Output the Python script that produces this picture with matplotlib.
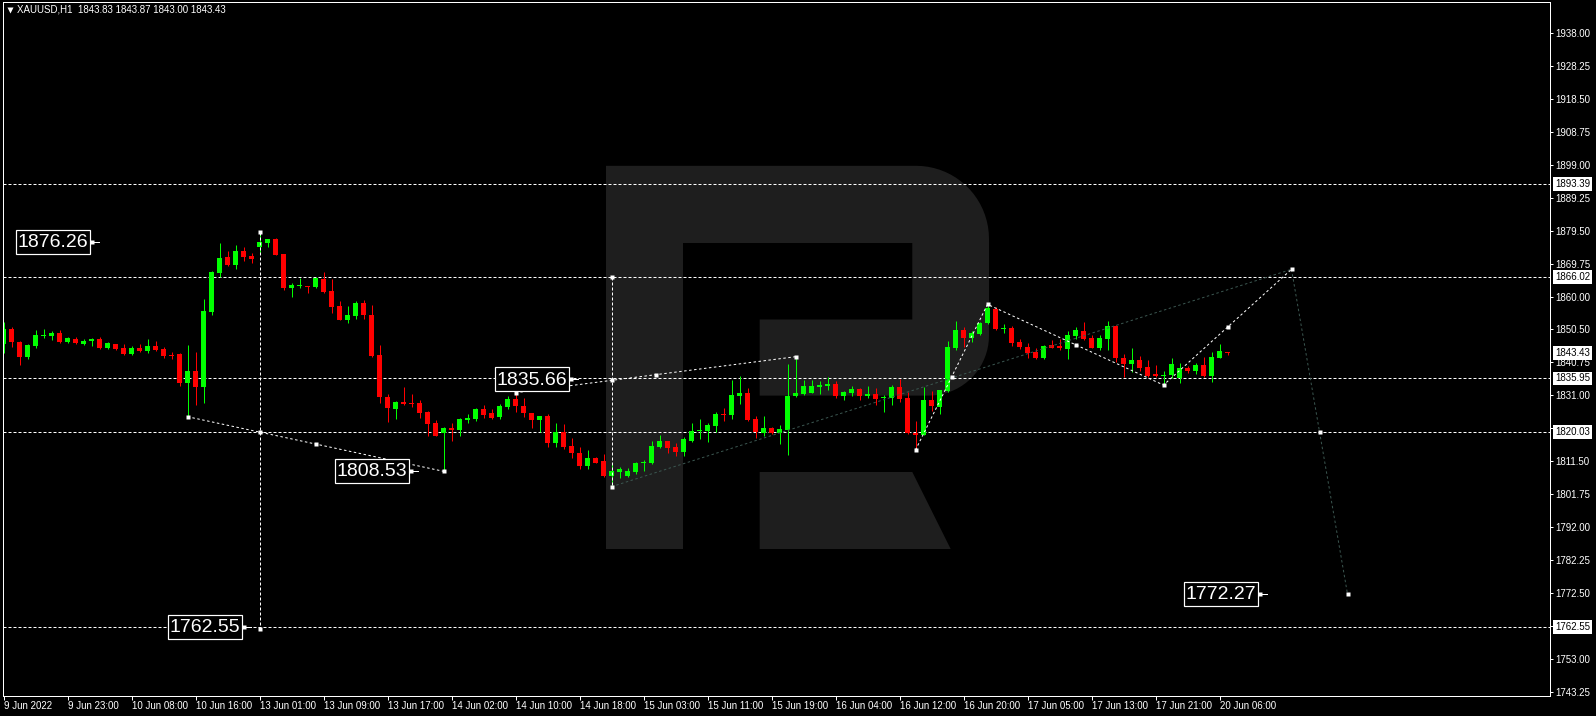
import numpy as np
import matplotlib
matplotlib.use('Agg')
import matplotlib.pyplot as plt
from matplotlib.patches import Polygon, Rectangle
from matplotlib import ticker

plt.rcParams['font.family'] = ['Liberation Sans', 'DejaVu Sans']
plt.rcParams['lines.scale_dashes'] = False

# XAUUSD H1 candles, 9 Jun 15:00 .. 20 Jun 07:00
opens = [1846.03, 1850.56, 1846.72, 1842.29, 1845.63, 1848.50, 1848.59, 1849.38, 1846.82, 1847.60,
         1846.23, 1846.92, 1847.60, 1845.04, 1846.13, 1845.04, 1843.17, 1845.04, 1844.06, 1845.54,
         1844.65, 1842.90, 1843.07, 1834.60, 1838.15, 1833.52, 1855.68, 1867.20, 1871.83, 1869.57,
         1873.60, 1872.13, 1874.88, 1876.06, 1877.15, 1872.72, 1862.77, 1863.20, 1863.36, 1862.97,
         1865.23, 1861.79, 1857.26, 1853.32, 1854.50, 1858.24, 1854.69, 1842.88, 1830.47, 1827.02,
         1828.99, 1828.60, 1828.60, 1826.04, 1822.89, 1819.73, 1821.21, 1820.72, 1823.67, 1823.97,
         1826.92, 1825.64, 1824.66, 1827.61, 1829.98, 1827.81, 1825.74, 1823.67, 1824.86, 1816.98,
         1820.03, 1816.00, 1813.83, 1810.18, 1812.45, 1811.56, 1807.23, 1808.41, 1807.23, 1808.41,
         1810.90, 1811.07, 1815.80, 1817.47, 1815.60, 1814.32, 1817.47, 1820.50, 1820.52, 1822.00,
         1825.45, 1825.15, 1830.86, 1831.55, 1823.97, 1819.73, 1821.41, 1819.73, 1820.72, 1830.86,
         1831.35, 1831.75, 1833.52, 1833.72, 1834.31, 1830.76, 1831.55, 1832.83, 1830.76, 1831.35,
         1830.20, 1830.27, 1833.52, 1830.07, 1819.93, 1819.24, 1829.58, 1827.61, 1832.24, 1844.85,
         1850.26, 1848.00, 1848.98, 1852.23, 1856.47, 1850.60, 1850.76, 1846.82, 1845.14, 1843.67,
         1841.89, 1845.83, 1845.54, 1844.65, 1848.49, 1849.97, 1848.00, 1845.04, 1847.60, 1851.45,
         1842.09, 1840.22, 1841.40, 1839.43, 1837.20, 1836.67, 1836.97, 1836.18, 1839.14, 1838.25,
         1839.92, 1836.67, 1842.09, 1843.83]
highs = [1852.70, 1851.15, 1847.11, 1846.03, 1850.26, 1850.56, 1849.97, 1850.26, 1848.29, 1848.09,
         1847.70, 1848.00, 1848.19, 1846.72, 1846.13, 1846.13, 1845.54, 1846.13, 1847.60, 1847.01,
         1845.24, 1843.67, 1843.57, 1845.83, 1843.76, 1859.32, 1867.70, 1875.97, 1873.60, 1875.38,
         1874.69, 1872.91, 1879.31, 1877.15, 1877.34, 1872.72, 1864.15, 1865.53, 1863.36, 1865.92,
         1867.30, 1865.23, 1858.83, 1857.26, 1858.83, 1859.13, 1857.65, 1845.83, 1831.45, 1829.29,
         1833.52, 1831.26, 1829.58, 1826.43, 1823.67, 1821.51, 1822.89, 1824.17, 1825.45, 1827.32,
         1828.10, 1826.82, 1828.30, 1830.76, 1831.75, 1830.17, 1825.74, 1824.86, 1825.45, 1822.89,
         1822.39, 1818.26, 1815.60, 1814.81, 1812.84, 1813.53, 1810.87, 1809.69, 1809.39, 1811.17,
         1811.86, 1817.47, 1819.24, 1817.47, 1816.78, 1818.75, 1822.89, 1823.97, 1822.89, 1826.14,
         1827.12, 1835.49, 1836.67, 1833.03, 1824.86, 1824.86, 1821.51, 1822.20, 1840.12, 1842.38,
         1835.49, 1835.49, 1835.10, 1836.28, 1835.20, 1832.34, 1833.72, 1833.13, 1833.72, 1833.13,
         1831.06, 1833.92, 1835.69, 1831.95, 1823.38, 1833.42, 1832.24, 1832.54, 1847.11, 1853.02,
         1851.05, 1849.97, 1852.72, 1857.85, 1857.16, 1852.03, 1851.45, 1847.60, 1846.33, 1845.04,
         1845.83, 1847.31, 1847.50, 1849.97, 1851.05, 1852.72, 1848.78, 1848.78, 1852.92, 1851.74,
         1843.17, 1845.04, 1842.58, 1841.40, 1839.92, 1838.15, 1842.09, 1840.42, 1839.63, 1840.61,
         1842.38, 1843.86, 1846.13, 1843.87]
lows = [1843.60, 1845.24, 1839.92, 1841.79, 1845.04, 1848.00, 1847.31, 1846.42, 1846.52, 1846.13,
        1845.83, 1845.63, 1844.65, 1844.65, 1844.36, 1842.88, 1842.88, 1843.67, 1843.57, 1844.16,
        1842.09, 1841.79, 1833.62, 1824.66, 1828.20, 1828.80, 1854.79, 1865.92, 1869.27, 1868.38,
        1870.65, 1870.16, 1872.81, 1874.69, 1872.32, 1862.08, 1860.11, 1862.77, 1861.29, 1862.77,
        1861.29, 1855.38, 1853.10, 1852.43, 1853.61, 1853.42, 1842.19, 1828.80, 1823.18, 1823.87,
        1828.00, 1827.60, 1824.36, 1819.05, 1818.85, 1808.53, 1817.47, 1819.05, 1822.89, 1823.38,
        1824.17, 1823.97, 1823.97, 1826.92, 1826.14, 1824.46, 1821.41, 1820.03, 1815.80, 1815.80,
        1815.11, 1812.45, 1809.20, 1809.20, 1810.87, 1806.93, 1803.98, 1806.64, 1806.93, 1807.62,
        1808.60, 1810.58, 1815.31, 1813.83, 1813.14, 1813.14, 1817.27, 1817.96, 1817.27, 1820.03,
        1823.48, 1823.97, 1828.40, 1823.38, 1818.45, 1819.05, 1819.44, 1816.49, 1813.33, 1830.37,
        1831.06, 1831.55, 1831.35, 1832.54, 1830.27, 1829.58, 1830.76, 1829.58, 1830.07, 1828.10,
        1826.14, 1828.10, 1829.09, 1819.44, 1814.81, 1819.24, 1826.23, 1825.35, 1832.00, 1844.36,
        1845.34, 1846.82, 1848.78, 1852.00, 1850.26, 1849.48, 1845.63, 1844.55, 1841.89, 1841.60,
        1841.70, 1844.85, 1844.36, 1841.70, 1847.60, 1847.31, 1845.04, 1844.36, 1844.36, 1840.91,
        1836.28, 1837.76, 1838.15, 1836.48, 1836.48, 1834.01, 1835.98, 1834.70, 1837.66, 1837.17,
        1836.48, 1835.00, 1842.09, 1843.00]
closes = [1850.56, 1846.62, 1842.38, 1845.73, 1848.69, 1848.69, 1849.38, 1846.82, 1847.90, 1846.52,
          1847.11, 1847.60, 1845.04, 1846.33, 1844.75, 1843.27, 1845.04, 1844.16, 1845.54, 1844.36,
          1842.58, 1842.70, 1834.60, 1838.15, 1833.52, 1855.88, 1867.40, 1871.53, 1869.47, 1873.60,
          1871.93, 1871.24, 1876.16, 1877.05, 1872.52, 1862.57, 1863.46, 1863.36, 1863.07, 1865.53,
          1861.49, 1857.06, 1853.32, 1854.60, 1858.24, 1854.60, 1842.48, 1830.57, 1827.32, 1829.09,
          1828.40, 1828.40, 1825.84, 1822.49, 1819.05, 1821.21, 1820.72, 1823.97, 1824.17, 1826.92,
          1825.15, 1824.36, 1827.81, 1829.98, 1827.81, 1825.84, 1823.67, 1824.86, 1816.98, 1820.03,
          1815.80, 1813.83, 1810.08, 1812.45, 1811.07, 1807.23, 1808.60, 1809.10, 1808.60, 1810.87,
          1811.17, 1816.00, 1817.47, 1815.50, 1814.32, 1817.96, 1820.43, 1820.72, 1822.20, 1825.45,
          1825.30, 1831.06, 1831.55, 1823.67, 1820.03, 1821.41, 1819.73, 1821.02, 1830.76, 1831.55,
          1833.72, 1833.72, 1834.01, 1834.31, 1830.76, 1831.95, 1832.83, 1830.76, 1831.35, 1829.78,
          1830.37, 1833.52, 1829.88, 1819.73, 1819.14, 1829.58, 1827.91, 1832.54, 1845.34, 1850.26,
          1848.00, 1849.28, 1852.23, 1856.66, 1850.56, 1850.76, 1846.33, 1845.14, 1843.57, 1842.09,
          1845.54, 1845.04, 1844.85, 1848.78, 1850.26, 1847.60, 1845.04, 1848.00, 1851.45, 1842.09,
          1840.22, 1841.40, 1839.14, 1836.67, 1836.67, 1836.97, 1840.22, 1839.14, 1838.25, 1839.92,
          1836.67, 1842.38, 1844.06, 1843.43]

time_labels = ['9 Jun 2022', '9 Jun 23:00', '10 Jun 08:00', '10 Jun 16:00', '13 Jun 01:00',
               '13 Jun 09:00', '13 Jun 17:00', '14 Jun 02:00', '14 Jun 10:00', '14 Jun 18:00',
               '15 Jun 03:00', '15 Jun 11:00', '15 Jun 19:00', '16 Jun 04:00', '16 Jun 12:00',
               '16 Jun 20:00', '17 Jun 05:00', '17 Jun 13:00', '17 Jun 21:00', '20 Jun 06:00']
price_ticks = [1938.00, 1928.25, 1918.50, 1908.75, 1899.00, 1889.25, 1879.50, 1869.75, 1860.00,
               1850.50, 1840.75, 1831.00, 1821.25, 1811.50, 1801.75, 1792.00, 1782.25, 1772.50,
               1762.75, 1753.00, 1743.25]
hidden_ticks = [1821.25, 1762.75]  # covered by level boxes on the scale
levels = [1893.39, 1866.02, 1835.95, 1820.03, 1762.55]
last_price = 1843.43
header = 'XAUUSD,H1  1843.83 1843.87 1843.00 1843.43'

# forecast / analysis lines (bar index, price)
line_a_x, line_a_y = [23, 55], [1824.66, 1808.53]
line_b_x, line_b_y = [64, 99], [1831.75, 1842.38]
vline_a = (32, 1879.31, 1762.55)
vline_b = (76, 1866.02, 1803.98)
grey_up_x, grey_up_y = [76, 161], [1803.98, 1868.20]
wave_x, wave_y = [114, 123, 145, 161], [1814.81, 1857.85, 1834.01, 1868.20]
grey_dn_x, grey_dn_y = [161, 168], [1868.20, 1772.27]

box_values = [1876.26, 1808.53, 1835.66, 1762.55, 1772.27]
box_left = [1.5, 41.4, 61.4, 20.5, 147.5]

# pixel <-> data helpers (MT4 layout: 8 px per bar)
X0, DX = 3.5, 8.0
P0, Y0, SY = 1866.02, 276.7, 3.385
W, H = 1596, 716


def bx(px):
    return (px - X0) / DX


def pp(py):
    return P0 - (py - Y0) / SY


PX = 0.72  # one pixel in points at dpi 100

fig = plt.figure(figsize=(W / 100, H / 100), dpi=100, facecolor='black')
L, R, T, B = 2.5, 1550, 2, 695.5
ax = fig.add_axes([L / W, 1 - B / H, (R - L) / W, (B - T) / H])
ax.set_facecolor('black')
ax.set_xlim(bx(L), bx(R))
ax.set_ylim(pp(B), pp(T))
for s in ax.spines.values():
    s.set_color('white')
    s.set_linewidth(1.0 * PX)

# watermark "R"
def arc(cx, cy, r, a0, a1, n=20):
    t = np.radians(np.linspace(a0, a1, n))
    return [(cx + r * np.cos(t_), cy - r * np.sin(t_)) for t_ in t]


outer = [(606, 165.8), (916, 165.8)] + arc(916, 238.8, 73, 90, 0) + \
        [(989, 335.6)] + arc(929, 335.6, 60, 0, -90) + \
        [(759.7, 395.6), (759.7, 319.5), (912.3, 319.5), (912.3, 243), (683, 243), (683, 549), (606, 549)]
leg = [(759.7, 472), (912.3, 472), (950.7, 549), (759.7, 549)]
for shape in (outer, leg):
    ax.add_patch(Polygon([(bx(a), pp(b)) for a, b in shape], closed=True,
                         facecolor='#1e1e1e', edgecolor='none', zorder=0.5))

# horizontal levels
for lv in levels:
    ax.axhline(lv, color='white', lw=PX, dashes=(3 * PX, 2 * PX), zorder=1)

# candles
idx = np.arange(len(opens))
o, h, l, c = map(np.array, (opens, highs, lows, closes))
up = c >= o
cols = np.where(up, '#00ff00', '#ff0000')
ax.vlines(idx, l, h, colors=cols, lw=PX, zorder=2)
body_lo = np.minimum(o, c)
body_h = np.maximum(np.abs(c - o), 0.3)
ax.bar(idx, body_h, bottom=body_lo, width=0.62, color=cols, linewidth=0, zorder=2.1)

# analysis lines
dot = (2.5 * PX, 2.5 * PX)
ax.plot(line_a_x, line_a_y, color='white', lw=PX, dashes=dot, zorder=3)
ax.plot(line_b_x, line_b_y, color='white', lw=PX, dashes=dot, zorder=3)
for xv, top, bot in (vline_a, vline_b):
    ax.plot([xv, xv], [top, bot], color='white', lw=PX, dashes=(3 * PX, 2 * PX), zorder=3)
ax.plot(grey_up_x, grey_up_y, color='#3b5650', lw=PX, dashes=dot, zorder=3)
ax.plot(grey_dn_x, grey_dn_y, color='#3b5650', lw=PX, dashes=dot, zorder=3)
ax.plot(wave_x, wave_y, color='white', lw=PX, dashes=dot, zorder=3)


def on_line(xs, ys, xv):
    return np.interp(xv, xs, ys)


mk_x = [23, 32, 39, 55, 32, 32, 64, 76, 81.5, 99, 76, 76, 118.5, 134, 153, 164.5, 168]
mk_y = [1824.66, on_line(line_a_x, line_a_y, 32), on_line(line_a_x, line_a_y, 39), 1808.53,
        1879.31, 1762.0, 1831.75, on_line(line_b_x, line_b_y, 76), on_line(line_b_x, line_b_y, 81.5),
        1842.38, 1866.02, 1803.98, on_line(wave_x, wave_y, 118.5), on_line(wave_x, wave_y, 134),
        on_line(wave_x, wave_y, 153), 1820.03, 1772.27]
ax.plot(mk_x, mk_y, 's', color='white', ms=3, mec='none', zorder=4)
ax.plot(wave_x, wave_y, 's', color='white', ms=3, mec='none', zorder=4)

# text boxes with price tags
bw, bh = 74 / DX, 24 / SY
for val, left in zip(box_values, box_left):
    ax.add_patch(Rectangle((left, val - bh / 2), bw, bh, facecolor='black', edgecolor='white',
                           lw=1.2 * PX, zorder=6))
    ax.text(left + bw / 2, val - 0.2, f'{val:.2f}', ha='center', va='center', color='white',
            fontsize=14, family='Liberation Sans', zorder=7)
    ax.plot([left + bw, left + bw + 1.2], [val, val], color='white', lw=PX, zorder=6)
    ax.plot([left + bw + 0.3], [val], 's', color='white', ms=2.5, mec='none', zorder=6)

# axes ticks
ax.yaxis.tick_right()
ax.yaxis.set_major_locator(ticker.FixedLocator(price_ticks))
ax.yaxis.set_major_formatter(ticker.FixedFormatter(
    ['' if p in hidden_ticks else f'{p:.2f}' for p in price_ticks]))
ax.tick_params(axis='y', length=3 * PX, width=PX, colors='white', labelsize=7, pad=2)
ax.set_xticks(np.arange(0, 153, 8))
ax.set_xticklabels(time_labels)
ax.tick_params(axis='x', length=4 * PX, width=PX, colors='white', labelsize=7, pad=1)
for lb in ax.get_xticklabels():
    lb.set_horizontalalignment('left')

# price boxes on the scale
for lv in levels + [last_price]:
    ax.annotate(f'{lv:.2f}', xy=(1.0, lv), xycoords=ax.get_yaxis_transform(),
                xytext=(5, 0), textcoords='offset pixels', ha='left', va='center',
                fontsize=7, color='black', annotation_clip=False, zorder=8,
                bbox=dict(boxstyle='square,pad=0.2', fc='white', ec='none'))

# header
fig.text(17 / W, 1 - 10 / H, header, color='white', fontsize=7, va='center', ha='left')
ax.plot([(10 - L) / (R - L)], [1 - (10 - T) / (B - T)], 'v', color='white', ms=4, mec='none',
        transform=ax.transAxes, clip_on=False)

fig.savefig('out.png', dpi=100, facecolor='black')
